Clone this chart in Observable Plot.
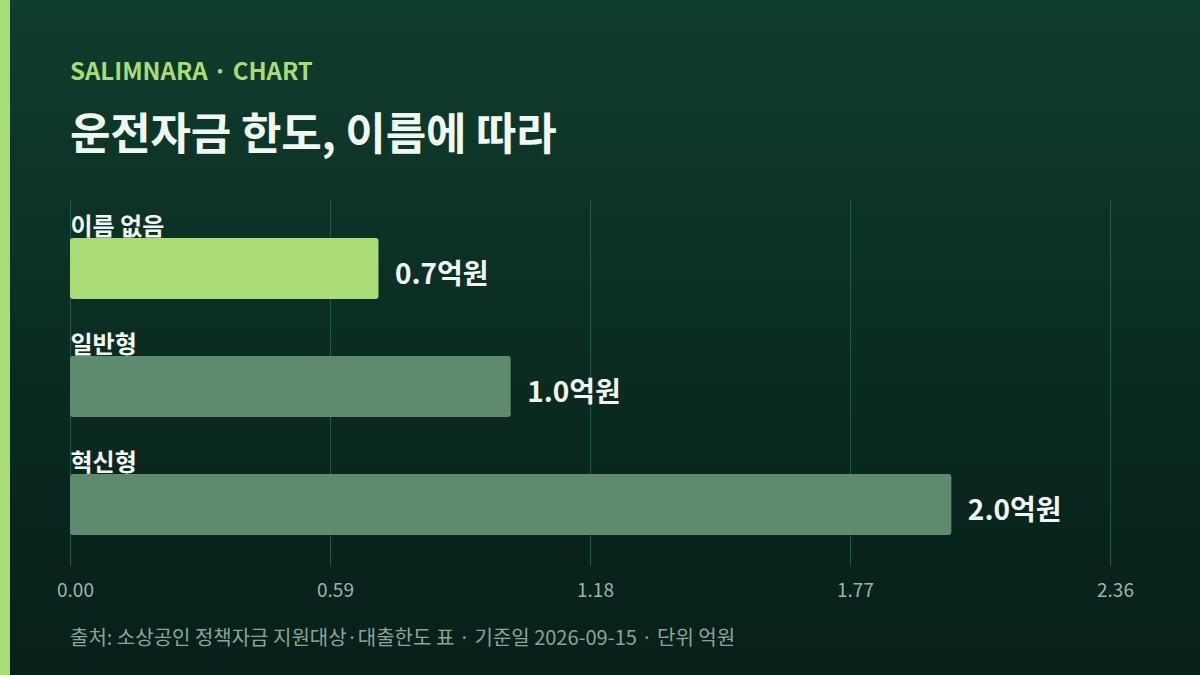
<!DOCTYPE html>
<html>
<head>
<meta charset="utf-8">
<script src="https://cdn.jsdelivr.net/npm/d3@7"></script>
<script src="https://cdn.jsdelivr.net/npm/@observablehq/plot@0.6"></script>
<style>
  html, body { margin: 0; padding: 0; }
  body { width: 1200px; height: 675px; overflow: hidden; font-family: "Noto Sans CJK KR", "Noto Sans", sans-serif; }
  #page { position: relative; width: 1200px; height: 675px; background: linear-gradient(180deg, #0f3d2e 0%, #0a2b20 55%, #07201a 100%); }
  #accent { position: absolute; left: 0; top: 0; width: 10px; height: 675px; background: #a8dc76; }
  #header { position: relative; height: 160px; }
  #kicker { position: absolute; left: 70px; top: 55px; font-size: 24px; font-weight: 700; color: #a8dc76; line-height: 30px; }
  #title { position: absolute; left: 70px; top: 103px; font-size: 44px; font-weight: 700; color: #eef7f0; line-height: 56px; letter-spacing: -0.2px; }
  #chart { position: relative; height: 450px; }
  #chart svg { display: block; }
  #caption { position: absolute; left: 70px; top: 623px; font-size: 20px; color: #8aa596; line-height: 28px; }
</style>
</head>
<body>
<div id="page">
  <div id="accent"></div>
  <div id="header">
    <div id="kicker">SALIMNARA · CHART</div>
    <div id="title">운전자금 한도, 이름에 따라</div>
  </div>
  <div id="chart"></div>
  <div id="caption">출처: 소상공인 정책자금 지원대상·대출한도 표 · 기준일 2026-09-15 · 단위 억원</div>
</div>
<script>
const categories = ["이름 없음", "일반형", "혁신형"];
const limits = [0.7, 1.0, 2.0];
const valueLabels = ["0.7억원", "1.0억원", "2.0억원"];
const tickValues = [0, 0.59, 1.18, 1.77, 2.36];
const highlightCategory = "이름 없음";

const rows = categories.map((c, i) => ({ category: c, value: limits[i], label: valueLabels[i] }));

const chart = Plot.plot({
  width: 1200,
  height: 450,
  marginLeft: 70,
  marginRight: 90,
  marginTop: 40,
  marginBottom: 44,
  style: { background: "transparent", fontFamily: "'Noto Sans CJK KR', sans-serif", overflow: "visible" },
  x: { domain: [0, 2.36], ticks: tickValues, label: null },
  y: { domain: categories, paddingInner: 0.483, paddingOuter: 0.292, align: 0.55, axis: null, label: null },
  marks: [
    Plot.gridX(tickValues, { stroke: "#2c6a52", strokeOpacity: 0.75, strokeWidth: 1 }),
    Plot.axisX({ ticks: tickValues, tickFormat: d3.format(".2f"), tickSize: 0, tickPadding: 17, fontSize: 19, fill: "#9cb5a7", dx: 5, label: null }),
    Plot.text(rows, { x: 0, y: "category", text: "category", textAnchor: "start", lineAnchor: "bottom", dy: -34, fontSize: 24, fontWeight: 700, fill: "#f0f7f2" }),
    Plot.barX(rows, { x: "value", y: "category", fill: d => d.category === highlightCategory ? "#aadb77" : "#5e8b6e", rx: 3 }),
    Plot.text(rows, { x: "value", y: "category", text: "label", textAnchor: "start", dx: 16, dy: 6, fontSize: 28, fontWeight: 700, fill: "#f0f7f2" })
  ]
});
document.getElementById("chart").appendChild(chart);
</script>
</body>
</html>
